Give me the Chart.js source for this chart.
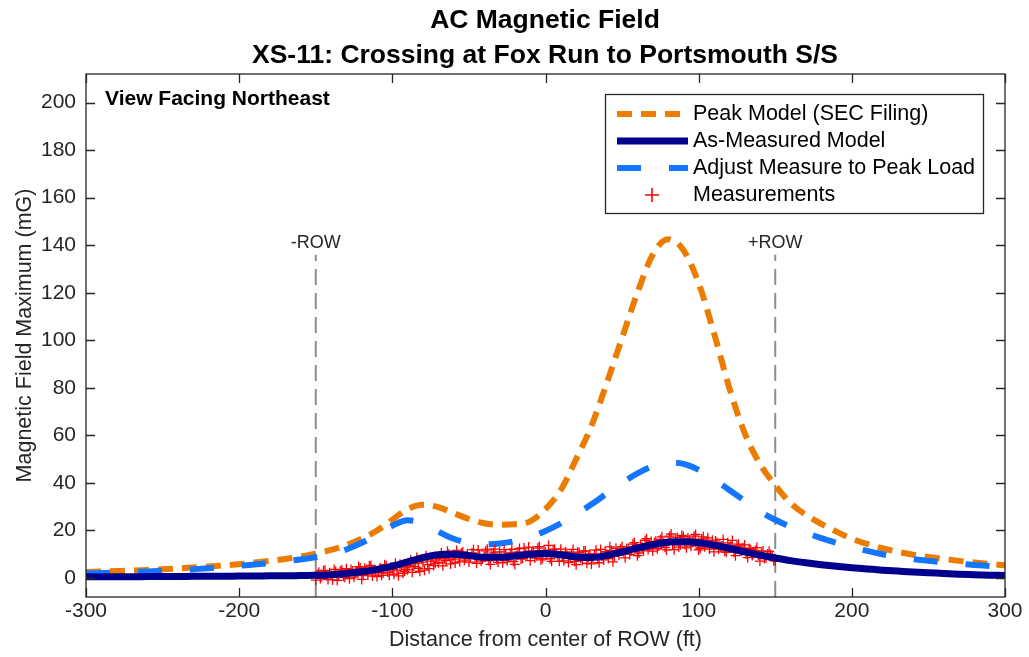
<!DOCTYPE html>
<html>
<head>
<meta charset="utf-8">
<script src="https://cdn.jsdelivr.net/npm/chart.js@4.4.1/dist/chart.umd.min.js"></script>
<style>
    html, body { margin: 0; padding: 0; background: #fff; }
    #wrap { position: relative; width: 1029px; height: 657px; }
</style>
</head>
<body>
<div id="wrap"><canvas id="chart"></canvas></div>
<script>
// ===== DATOS =====
const xModel = [-300, -290, -280, -270, -260, -250, -240, -230, -220, -210, -200, -190, -180, -170, -160,
    -150, -140, -130, -120, -110, -100, -90, -80, -70, -60, -50, -40, -30, -20, -10,
    0, 10, 20, 30, 40, 50, 60, 70, 80, 90, 100, 110, 120, 130, 140,
    150, 160, 170, 180, 190, 200, 210, 220, 230, 240, 250, 260, 270, 280, 290, 300];

const peakModel = [2.5, 2.7, 2.9, 3.1, 3.4, 3.7, 4.0, 4.4, 4.8, 5.3, 5.8, 6.5, 7.2, 8.0, 9.0,
    10.2, 11.8, 13.8, 16.5, 20.0, 24.5, 29.0, 30.8, 29.8, 27.3, 24.8, 23.0, 22.4, 22.6, 23.8,
    29, 37, 50, 64, 82, 101, 120, 136, 142.5, 138, 124, 103, 80, 61, 48,
    39, 31.5, 26.5, 22.8, 19.5, 16.5, 14.3, 12.5, 11.0, 9.8, 8.8, 8.0, 7.2, 6.5, 5.9, 5.3];

const asMeasuredModel = [0.5, 0.5, 0.5, 0.5, 0.6, 0.6, 0.6, 0.7, 0.7, 0.7, 0.8, 0.8, 0.9, 0.9, 1.0,
    1.1, 1.4, 1.9, 2.6, 3.6, 5.0, 6.8, 8.6, 9.8, 10.0, 9.4, 8.7, 8.7, 9.3, 10.0,
    10.3, 9.8, 8.8, 8.6, 9.5, 11.0, 12.6, 14.0, 15.0, 15.2, 14.8, 13.8, 12.5, 11.0, 9.6,
    8.4, 7.3, 6.4, 5.6, 4.9, 4.3, 3.8, 3.3, 2.9, 2.5, 2.2, 1.9, 1.6, 1.4, 1.2, 1.0];

const adjustedModel = [2.0, 2.1, 2.3, 2.5, 2.7, 3.0, 3.3, 3.7, 4.1, 4.6, 5.1, 5.7, 6.3, 7.0, 7.8,
    8.7, 10.0, 12.0, 14.8, 18.2, 22.0, 24.3, 23.0, 19.5, 16.5, 14.8, 14.2, 14.5, 15.5, 17.3,
    19.8, 23.0, 26.8, 31.0, 35.5, 40.0, 44.0, 47.0, 48.5, 48.0, 45.5, 41.5, 37.0, 32.5, 28.0,
    24.5, 21.5, 19.0, 16.8, 14.8, 13.0, 11.4, 10.0, 8.8, 7.9, 7.2, 6.6, 6.0, 5.5, 5.0, 4.6];

// Mediciones en pies pares
const xMeasEven = [-150, -148, -146, -144, -142, -140, -138, -136, -134, -132,
    -130, -128, -126, -124, -122, -120, -118, -116, -114, -112,
    -110, -108, -106, -104, -102, -100, -98, -96, -94, -92,
    -90, -88, -86, -84, -82, -80, -78, -76, -74, -72,
    -70, -68, -66, -64, -62, -60, -58, -56, -54, -52,
    -50, -48, -46, -44, -42, -40, -38, -36, -34, -32,
    -30, -28, -26, -24, -22, -20, -18, -16, -14, -12,
    -10, -8, -6, -4, -2, 0, 2, 4, 6, 8,
    10, 12, 14, 16, 18, 20, 22, 24, 26, 28,
    30, 32, 34, 36, 38, 40, 42, 44, 46, 48,
    50, 52, 54, 56, 58, 60, 62, 64, 66, 68,
    70, 72, 74, 76, 78, 80, 82, 84, 86, 88,
    90, 92, 94, 96, 98, 100, 102, 104, 106, 108,
    110, 112, 114, 116, 118, 120, 122, 124, 126, 128,
    130, 132, 134, 136, 138, 140, 142, 144, 146, 148, 150];

const measEven = [-0.9, 2.4, 0.6, 3.2, -0.6, 1.8, 3.6, -1.0, 2.9, 0.7,
    3.9, -0.3, 2.9, 1.9, 4.8, -0.6, 4.1, 1.3, 5.3, 2.9,
    0.6, 4.3, 2.1, 5.1, 1.2, 3.7, 6.2, 0.9, 5.4, 2.8,
    3.5, 7.6, 4.9, 8.6, 2.8, 6.7, 9.4, 3.9, 8.8, 6.1,
    6.4, 10.6, 8.1, 11.2, 5.9, 9.3, 11.6, 6.8, 10.9, 8.4,
    6.7, 10.5, 8.3, 11.8, 7.1, 9.0, 12.1, 5.7, 10.6, 7.8,
    11.0, 6.4, 9.8, 8.6, 12.0, 5.7, 10.9, 7.9, 12.6, 9.6,
    7.3, 11.4, 9.5, 13.2, 8.2, 10.8, 13.7, 7.0, 12.1, 8.9,
    12.1, 7.2, 10.4, 9.1, 12.0, 5.6, 10.6, 7.4, 11.4, 8.7,
    5.9, 10.0, 7.9, 12.0, 7.6, 9.9, 13.1, 6.8, 12.5, 9.6,
    13.2, 8.5, 12.2, 11.3, 14.9, 9.4, 14.0, 11.4, 16.5, 13.4,
    11.3, 15.4, 13.5, 17.3, 12.9, 15.5, 18.5, 11.9, 17.0, 13.9,
    17.5, 12.7, 16.0, 15.0, 18.3, 11.8, 16.4, 13.1, 16.9, 14.1,
    11.0, 14.9, 12.7, 16.2, 10.8, 12.9, 15.8, 9.4, 14.2, 11.4,
    13.9, 8.6, 11.9, 10.2, 12.8, 7.1, 11.3, 8.5, 11.2, 9.3, 7.1];

// Mediciones en pies impares
const xMeasOdd = [-149, -147, -145, -143, -141, -139, -137, -135, -133, -131,
    -129, -127, -125, -123, -121, -119, -117, -115, -113, -111,
    -109, -107, -105, -103, -101, -99, -97, -95, -93, -91,
    -89, -87, -85, -83, -81, -79, -77, -75, -73, -71,
    -69, -67, -65, -63, -61, -59, -57, -55, -53, -51,
    -49, -47, -45, -43, -41, -39, -37, -35, -33, -31,
    -29, -27, -25, -23, -21, -19, -17, -15, -13, -11,
    -9, -7, -5, -3, -1, 1, 3, 5, 7, 9,
    11, 13, 15, 17, 19, 21, 23, 25, 27, 29,
    31, 33, 35, 37, 39, 41, 43, 45, 47, 49,
    51, 53, 55, 57, 59, 61, 63, 65, 67, 69,
    71, 73, 75, 77, 79, 81, 83, 85, 87, 89,
    91, 93, 95, 97, 99, 101, 103, 105, 107, 109,
    111, 113, 115, 117, 119, 121, 123, 125, 127, 129,
    131, 133, 135, 137, 139, 141, 143, 145, 147, 149];

const measOdd = [1.6, -0.2, 3.0, 0.9, 2.2, -0.8, 2.7, 1.2, 3.4, 0.3,
    1.5, 3.6, 0.4, 2.6, 4.2, 1.0, 3.1, 5.0, 0.8, 2.4,
    3.0, 1.1, 5.6, 2.5, 4.4, 1.6, 3.3, 5.8, 2.0, 4.6,
    5.2, 2.4, 6.1, 4.1, 7.9, 3.3, 5.6, 7.1, 5.2, 8.0,
    9.0, 5.1, 7.3, 10.1, 7.9, 6.3, 8.6, 10.4, 7.5, 10.2,
    8.6, 11.9, 6.2, 9.7, 8.0, 11.4, 7.2, 9.6, 12.1, 6.6,
    9.1, 11.9, 7.2, 10.5, 6.9, 9.4, 12.4, 8.3, 10.1, 13.0,
    10.6, 8.4, 12.6, 7.6, 11.6, 9.8, 8.1, 11.9, 10.4, 7.0,
    9.3, 11.0, 6.5, 9.8, 7.0, 10.9, 8.3, 11.3, 6.2, 10.1,
    8.4, 11.7, 6.4, 9.2, 11.1, 8.2, 11.6, 9.1, 10.8, 12.3,
    11.0, 12.4, 9.9, 14.2, 12.8, 10.5, 13.1, 15.8, 12.0, 15.3,
    14.8, 12.3, 16.2, 14.6, 11.8, 17.6, 14.2, 16.1, 13.0, 17.9,
    14.2, 16.8, 13.4, 17.6, 14.0, 12.5, 17.3, 14.6, 12.2, 15.9,
    15.6, 12.2, 13.5, 11.3, 14.8, 13.4, 10.8, 13.5, 11.9, 12.6,
    10.2, 12.4, 9.5, 11.6, 9.7, 10.4, 8.2, 10.1, 9.9, 7.4];

// Límites del derecho de vía (ROW)
const rowX = [-150, 150];
const rowLabels = ['-ROW', '+ROW'];
const rowLineTop = 136;
const rowLabelY = 141;

const xTicks = [-300, -200, -100, 0, 100, 200, 300];
const yTicks = [0, 20, 40, 60, 80, 100, 120, 140, 160, 180, 200];

const seriesLabels = ['Peak Model (SEC Filing)', 'As-Measured Model', 'Adjust Measure to Peak Load', 'Measurements'];

// ===== ESTILO =====
const FONT = 'Liberation Sans, Arial, Helvetica, sans-serif';
const AXIS_COLOR = '#262626';
const C_PEAK = '#EC7C00';
const C_MEASURED = '#00008C';
const C_ADJUST = '#1475FF';
const C_POINTS = '#FF0000';

const pts = (xs, ys) => xs.map((x, i) => ({ x, y: ys[i] }));

// Títulos, recuadro, marcas hacia adentro, etiquetas ROW y leyenda
const decorPlugin = {
    id: 'decor',
    afterDraw(chart) {
        const { ctx, chartArea: a, scales: { x, y } } = chart;
        ctx.save();

        // recuadro y marcas
        ctx.strokeStyle = AXIS_COLOR;
        ctx.lineWidth = 1.3;
        ctx.strokeRect(a.left, a.top, a.right - a.left, a.bottom - a.top);
        ctx.beginPath();
        xTicks.forEach(v => {
            const px = Math.round(x.getPixelForValue(v)) + 0.5;
            ctx.moveTo(px, a.bottom); ctx.lineTo(px, a.bottom - 9);
            ctx.moveTo(px, a.top); ctx.lineTo(px, a.top + 9);
        });
        yTicks.forEach(v => {
            const py = Math.round(y.getPixelForValue(v)) + 0.5;
            ctx.moveTo(a.left, py); ctx.lineTo(a.left + 9, py);
            ctx.moveTo(a.right, py); ctx.lineTo(a.right - 9, py);
        });
        ctx.stroke();

        // título
        ctx.fillStyle = '#000';
        ctx.textAlign = 'center';
        ctx.textBaseline = 'alphabetic';
        ctx.font = `bold 26.5px ${FONT}`;
        ctx.fillText('AC Magnetic Field', 545, 28);
        ctx.fillText('XS-11: Crossing at Fox Run to Portsmouth S/S', 545, 62.5);

        // títulos de ejes
        ctx.fillStyle = AXIS_COLOR;
        ctx.font = `21.5px ${FONT}`;
        ctx.textBaseline = 'middle';
        ctx.fillText('Distance from center of ROW (ft)', (a.left + a.right) / 2, 640);
        ctx.save();
        ctx.translate(25, (a.top + a.bottom) / 2);
        ctx.rotate(-Math.PI / 2);
        ctx.fillText('Magnetic Field Maximum (mG)', 0, 0);
        ctx.restore();

        // nota
        ctx.fillStyle = '#000';
        ctx.textAlign = 'left';
        ctx.font = `bold 21px ${FONT}`;
        ctx.fillText('View Facing Northeast', 105, 99);

        // etiquetas ROW
        ctx.fillStyle = AXIS_COLOR;
        ctx.textAlign = 'center';
        ctx.font = `18px ${FONT}`;
        rowX.forEach((v, i) => {
            ctx.fillText(rowLabels[i], x.getPixelForValue(v), y.getPixelForValue(rowLabelY));
        });

        // leyenda
        const L = { left: 605, top: 94, right: 983, bottom: 213 };
        ctx.fillStyle = '#fff';
        ctx.fillRect(L.left, L.top, L.right - L.left, L.bottom - L.top);
        ctx.strokeStyle = AXIS_COLOR;
        ctx.lineWidth = 1.3;
        ctx.strokeRect(L.left + 0.5, L.top + 0.5, L.right - L.left, L.bottom - L.top);

        const rows = [114, 141, 168, 195];
        const ds = chart.data.datasets;
        [0, 1, 2, 3].forEach((di, r) => {
            const d = ds[di];
            const cy = rows[r];
            if (d.showLine === false) {
                ctx.strokeStyle = C_POINTS;
                ctx.lineWidth = 1.6;
                ctx.setLineDash([]);
                ctx.beginPath();
                ctx.moveTo(652 - 7, cy); ctx.lineTo(652 + 7, cy);
                ctx.moveTo(652, cy - 7); ctx.lineTo(652, cy + 7);
                ctx.stroke();
            } else {
                ctx.strokeStyle = d.borderColor;
                ctx.lineWidth = d.borderWidth;
                ctx.setLineDash(d.borderDash || []);
                ctx.beginPath();
                ctx.moveTo(617, cy); ctx.lineTo(688, cy);
                ctx.stroke();
            }
            ctx.setLineDash([]);
            ctx.fillStyle = '#000';
            ctx.textAlign = 'left';
            ctx.font = `21.5px ${FONT}`;
            ctx.fillText(d.label, 693, cy);
        });

        ctx.restore();
    }
};

new Chart(document.getElementById('chart'), {
    type: 'line',
    data: {
        datasets: [
            {
                label: seriesLabels[0],
                data: pts(xModel, peakModel),
                borderColor: C_PEAK,
                borderWidth: 6,
                borderDash: [15, 9],
                pointRadius: 0,
                cubicInterpolationMode: 'monotone',
                order: 4
            },
            {
                label: seriesLabels[1],
                data: pts(xModel, asMeasuredModel),
                borderColor: C_MEASURED,
                borderWidth: 7,
                pointRadius: 0,
                cubicInterpolationMode: 'monotone',
                order: 1
            },
            {
                label: seriesLabels[2],
                data: pts(xModel, adjustedModel),
                borderColor: C_ADJUST,
                borderWidth: 6,
                borderDash: [24, 28],
                pointRadius: 0,
                cubicInterpolationMode: 'monotone',
                order: 3
            },
            {
                label: seriesLabels[3],
                data: pts(xMeasEven, measEven).concat(pts(xMeasOdd, measOdd)),
                showLine: false,
                pointStyle: 'cross',
                pointRadius: 5,
                pointBorderWidth: 1.3,
                pointBorderColor: C_POINTS,
                pointBackgroundColor: C_POINTS,
                order: 2
            },
            ...rowX.map(v => ({
                label: 'row',
                data: [{ x: v, y: -8 }, { x: v, y: rowLineTop }],
                borderColor: '#8c8c8c',
                borderWidth: 2,
                borderDash: [16, 8],
                pointRadius: 0,
                order: 5
            }))
        ]
    },
    options: {
        responsive: true,
        maintainAspectRatio: false,
        animation: false,
        layout: { padding: { left: 0, right: 24, top: 74, bottom: 0 } },
        plugins: {
            legend: { display: false },
            title: { display: false },
            tooltip: { enabled: false }
        },
        scales: {
            x: {
                type: 'linear',
                min: -300,
                max: 300,
                afterBuildTicks: s => { s.ticks = xTicks.map(v => ({ value: v })); },
                afterFit: s => { s.height = 60; },
                grid: { display: false, drawTicks: false },
                border: { display: false },
                ticks: {
                    color: AXIS_COLOR,
                    font: { family: FONT, size: 21 },
                    padding: 2,
                    maxRotation: 0,
                    autoSkip: false
                }
            },
            y: {
                min: -8,
                max: 212,
                afterBuildTicks: s => { s.ticks = yTicks.map(v => ({ value: v })); },
                afterFit: s => { s.width = 86; },
                grid: { display: false, drawTicks: false },
                border: { display: false },
                ticks: {
                    color: AXIS_COLOR,
                    font: { family: FONT, size: 21 },
                    padding: 10
                }
            }
        }
    },
    plugins: [decorPlugin]
});
</script>
</body>
</html>
